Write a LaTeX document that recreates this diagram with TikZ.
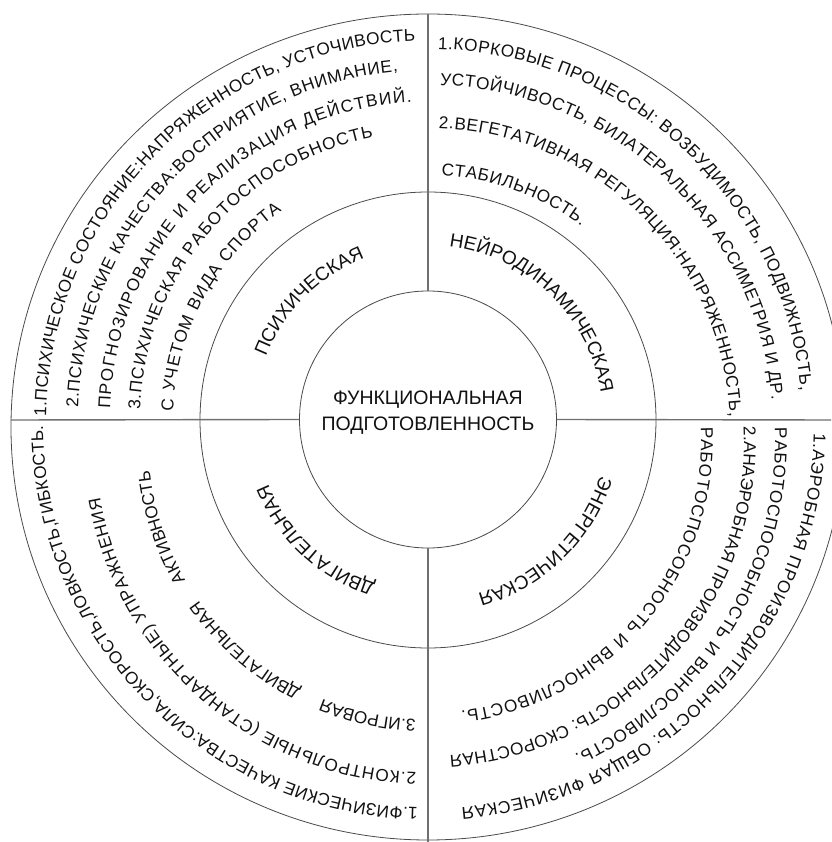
\documentclass[tikz,border=0pt]{standalone}
\usepackage{fontspec}
\setmainfont{Liberation Sans}
\usetikzlibrary{decorations.text,calc,shapes.geometric}
\definecolor{ink}{HTML}{111111}
\definecolor{rulegray}{HTML}{707070}
\definecolor{ringgray}{HTML}{4A4A4A}
\newcommand{\arcfont}{\fontsize{17.2}{20}\selectfont}
\newcommand{\lblfont}{\fontsize{19}{22}\selectfont}
% #1 centre, #2 radius, #3 start angle, #4 end angle, #5 align, #6 text (with font)
\newcommand{\ringtext}[6]{%
  \path[decorate,decoration={text along path,text align={#5},text color=ink,text={#6}}]
    ($(#1)+(#3:#2pt)$) arc[start angle=#3,end angle=#4,radius=#2pt];}
\tikzset{
  ringc/.style={draw=ringgray, line width=0.8pt, inner sep=0pt},
  divider/.style={draw=rulegray, line width=1.4pt},
}
\begin{document}
\begin{tikzpicture}[x=1pt,y=1pt]
\useasboundingbox (-428,-422) rectangle (403,420);
\fill[white] (-428,-422) rectangle (403,420);
% centres for text rings
\coordinate (c0) at (0,-3);
\coordinate (ctl) at (0,0);
\coordinate (ctr) at (0,-10);
\coordinate (cbot) at (0,-20);
% circles
\node[ringc, ellipse, minimum width=834pt, minimum height=826pt] (outer) at (0,-7) {};
\node[ringc, circle, minimum size=456pt] (mid) at (0,0) {};
\node[ringc, circle, minimum size=257pt] (core) at (0,0.5) {};
\node[align=center, text=ink, font=\fontsize{19.5}{26}\selectfont] (title) at (0,7)
  {ФУНКЦИОНАЛЬНАЯ\\ПОДГОТОВЛЕННОСТЬ};
% dividers
\coordinate (lend) at (-417,0);
\coordinate (rend) at (403,0);
\coordinate (bend) at (0,-422);
\draw[divider] (outer.north) -- (core.north);
\draw[divider] (core.south) -- (bend);
\draw[divider] (lend) -- (core.west);
\draw[divider] (core.east) -- (rend);
% middle ring labels (centred on their mid angle)
\ringtext{ctl}{174}{195}{75}{center}{|\lblfont|ПСИХИЧЕСКАЯ}
\ringtext{ctl}{175}{106}{-14}{center}{|\lblfont|НЕЙРОДИНАМИЧЕСКАЯ}
\ringtext{ctl}{181}{14}{-106}{center}{|\lblfont|ЭНЕРГЕТИЧЕСКАЯ}
\ringtext{ctl}{172}{-73}{-193}{center}{|\lblfont|ДВИГАТЕЛЬНАЯ}
% outermost lines
\ringtext{c0}{382}{179}{92}{fit to path}{|\arcfont|1.ПСИХИЧЕСКОЕ СОСТОЯНИЕ:НАПРЯЖЕННОСТЬ, УСТОЧИВОСТЬ}
\ringtext{c0}{374}{88.5}{5}{fit to path}{|\arcfont|1.КОРКОВЫЕ ПРОЦЕССЫ: ВОЗБУДИМОСТЬ, ПОДВИЖНОСТЬ,}
\ringtext{c0}{386}{-1.5}{-85}{fit to path}{|\arcfont|1.АЭРОБНАЯ ПРОИЗВОДИТЕЛЬНОСТЬ: ОБЩАЯ ФИЗИЧЕСКАЯ}
\ringtext{c0}{385}{-91.5}{-179.5}{fit to path}{|\arcfont|1.ФИЗИЧЕСКИЕ КАЧЕСТВА:СИЛА,СКОРОСТЬ,ЛОВКОСТЬ,ГИБКОСТЬ.}
% top-left
\ringtext{ctl}{350}{178}{95}{fit to path}{|\arcfont|2.ПСИХИЧЕСКИЕ КАЧЕСТВА:ВОСПРИЯТИЕ, ВНИМАНИЕ,}
\ringtext{ctl}{318}{178}{93}{fit to path}{|\arcfont|ПРОГНОЗИРОВАНИЕ И РЕАЛИЗАЦИЯ ДЕЙСТВИЙ.}
\ringtext{ctl}{288}{178}{101}{fit to path}{|\arcfont|3.ПСИХИЧЕСКАЯ РАБОТОСПОСОБНОСТЬ}
\ringtext{ctl}{255}{178}{125}{fit to path}{|\arcfont|С УЧЕТОМ ВИДА СПОРТА}
% top-right
\ringtext{ctr}{345}{88}{5}{fit to path}{|\arcfont|УСТОЙЧИВОСТЬ, БИЛАТЕРАЛЬНАЯ АССИМЕТРИЯ И ДР.}
\ringtext{ctr}{302}{88}{2.5}{fit to path}{|\arcfont|2.ВЕГЕТАТИВНАЯ РЕГУЛЯЦИЯ:НАПРЯЖЕННОСТЬ,}
\ringtext{ctr}{255}{87}{53}{fit to path}{|\arcfont|СТАБИЛЬНОСТЬ.}
% bottom-right
\ringtext{cbot}{347}{2}{-65}{fit to path}{|\arcfont|РАБОТОСПОСОБНОСТЬ И ВЫНОСЛИВОСТЬ.}
\ringtext{cbot}{316}{2.4}{-86}{fit to path}{|\arcfont|2.АНАЭРОБНАЯ ПРОИЗВОДИТЕЛЬНОСТЬ: СКОРОСТНАЯ}
\ringtext{cbot}{273}{2.7}{-83}{fit to path}{|\arcfont|РАБОТОСПОСОБНОСТЬ И ВЫНОСЛИВОСТЬ.}
% bottom-left
\ringtext{cbot}{333}{-92}{-170}{fit to path}{|\arcfont|2.КОНТРОЛЬНЫЕ (СТАНДАРТНЫЕ) УПРАЖНЕНИЯ}
\ringtext{cbot}{280}{-92.5}{-140}{left}{|\arcfont|3.ИГРОВАЯ}
\ringtext{cbot}{280}{-117}{-170}{left}{|\arcfont|ДВИГАТЕЛЬНАЯ}
\ringtext{cbot}{280}{-150}{-200}{left}{|\arcfont|АКТИВНОСТЬ}
\end{tikzpicture}
\end{document}
